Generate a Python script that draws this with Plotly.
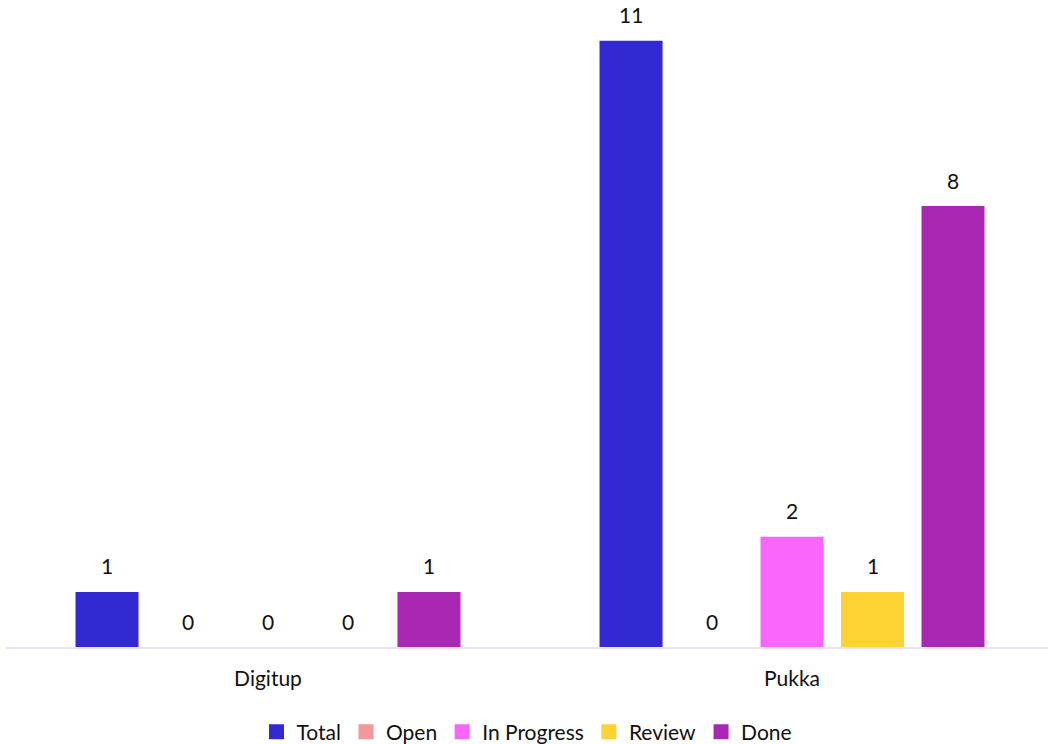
import plotly.graph_objects as go

projects = ["Digitup", "Pukka"]
series_names = ["Total", "Open", "In Progress", "Review", "Done"]
total = [1, 11]
open_ = [0, 0]
in_progress = [0, 2]
review = [0, 1]
done = [1, 8]
colors = ["#3229D2", "#F4979A", "#FA66FA", "#FDD333", "#A828B4"]

series_values = [total, open_, in_progress, review, done]

BARGAP = 0.232
GROUPGAP = 0.217
FONT = "Lato, Open Sans, Noto Sans, sans-serif"

fig = go.Figure()
for name, vals, col in zip(series_names, series_values, colors):
    fig.add_trace(go.Bar(
        name=name, x=projects, y=vals, marker=dict(color=col, line=dict(width=0)),
        hoverinfo="x+y+name", legendgroup=name, showlegend=False,
    ))
    # legend entry with a larger square swatch
    fig.add_trace(go.Scatter(
        name=name, x=[None], y=[None], mode="markers",
        marker=dict(symbol="square", size=15, color=col, line=dict(width=0)),
        legendgroup=name, showlegend=True, hoverinfo="skip",
    ))

# value labels above each bar, including zero-height bars
slot = (1 - BARGAP) / len(series_names)
for j, vals in enumerate(series_values):
    for i, v in enumerate(vals):
        fig.add_annotation(
            x=i + (j - (len(series_names) - 1) / 2) * slot, y=v,
            text=str(v), showarrow=False, yanchor="middle", yshift=26,
            font=dict(size=21, color="#111111", family=FONT),
        )

fig.update_layout(
    width=1048, height=744,
    margin=dict(l=6, r=0, t=0, b=97, autoexpand=False),
    paper_bgcolor="white", plot_bgcolor="white",
    barmode="group", bargap=BARGAP, bargroupgap=GROUPGAP,
    font=dict(family=FONT, size=21, color="#111111"),
    showlegend=True,
    legend=dict(orientation="h", x=0.5, xanchor="center",
                yref="container", y=0.016, yanchor="middle",
                font=dict(size=21, family=FONT), itemwidth=30, tracegroupgap=0),
    xaxis=dict(range=[-0.5, 1.4885], showgrid=False, showline=True,
               linecolor="#E6E3F8", linewidth=2, ticks="", tickfont=dict(size=21),
               ticklabelstandoff=12, automargin=False),
    yaxis=dict(range=[0, 11.74], visible=False, showgrid=False),
)

fig.write_html("out.html")
